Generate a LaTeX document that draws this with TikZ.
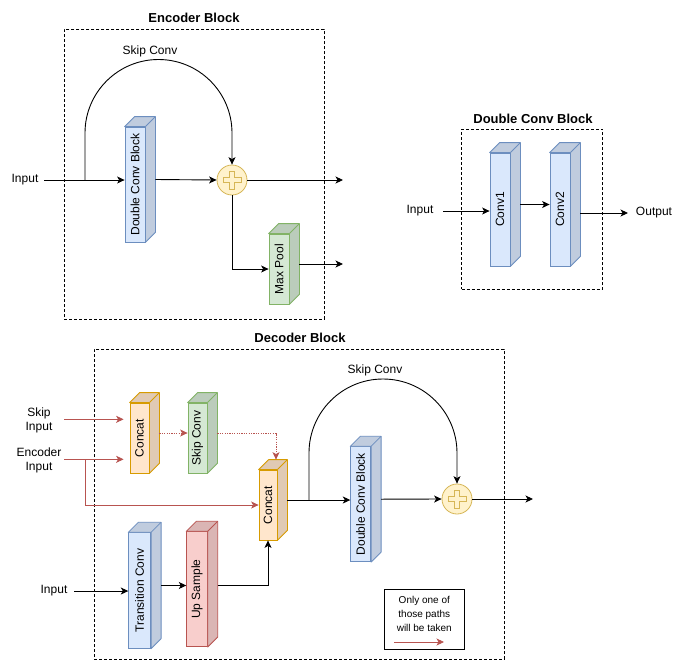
\documentclass[tikz,border=0pt]{standalone}
\usepackage{fontspec}
\setmainfont{Liberation Sans}
\usepackage{graphicx}
\usetikzlibrary{arrows.meta,calc}
\definecolor{blueF}{HTML}{DAE8FC}\definecolor{blueD}{HTML}{6C8EBF}
\definecolor{greenF}{HTML}{D5E8D4}\definecolor{greenD}{HTML}{82B366}
\definecolor{orangeF}{HTML}{FFE6CC}\definecolor{orangeD}{HTML}{D79B00}
\definecolor{redF}{HTML}{F8CECC}\definecolor{redD}{HTML}{B85450}
\definecolor{yelF}{HTML}{FFF2CC}\definecolor{yelD}{HTML}{D6B656}
\newcommand{\rtxt}[1]{\rotatebox{90}{#1}\hspace{-5pt}}
\newcommand{\cubesides}[3]{%
  \filldraw[fill=#2!88!black, draw=#3, line width=0.8pt, line join=round]
    (#1.north west) -- ([shift={(10,-10)}]#1.north west) -- ([shift={(10,-10)}]#1.north east)
    -- ([shift={(10,-10)}]#1.south east) -- (#1.south east) -- (#1.north east) -- cycle;
  \draw[#3, line width=0.8pt] (#1.north east) -- ([shift={(10,-10)}]#1.north east);}
\newcommand{\plussign}[1]{%
  \draw[yelD, line width=0.8pt, line join=miter] (#1.center) ++(-2.8,-9) -- ++(5.6,0) -- ++(0,6.2) -- ++(6.2,0)
    -- ++(0,5.6) -- ++(-6.2,0) -- ++(0,6.2) -- ++(-5.6,0) -- ++(0,-6.2) -- ++(-6.2,0)
    -- ++(0,-5.6) -- ++(6.2,0) -- cycle;}
\begin{document}
\begin{tikzpicture}[x=1pt,y=-1pt,
  fs12/.style={font=\fontsize{12}{14}\selectfont},
  ttl/.style={font=\fontsize{13}{15}\selectfont\bfseries},
  dashbox/.style={draw=black, line width=0.8pt, dash pattern=on 3pt off 2pt, rectangle, inner sep=0pt},
  front/.style={rectangle, inner sep=0pt, line width=0.8pt, font=\fontsize{12}{14}\selectfont},
  cb/.style={front, draw=blueD, fill=blueF},
  cg/.style={front, draw=greenD, fill=greenF},
  co/.style={front, draw=orangeD, fill=orangeF},
  cr/.style={front, draw=redD, fill=redF},
  addc/.style={circle, draw=yelD, fill=yelF, line width=0.8pt, minimum size=30pt, inner sep=0pt},
  arr/.style={-{Stealth[length=7.5pt,width=7pt,inset=2pt]}, line width=0.9pt, black},
  ln/.style={line width=0.9pt, black},
  rarr/.style={-{Stealth[length=7.5pt,width=7pt,inset=2pt]}, line width=0.8pt, redD},
  rdot/.style={rarr, dash pattern=on 1.2pt off 1.2pt},
  lbl/.style={fs12, inner sep=0pt}]
\fill[white] (0,0) rectangle (683,670);
\useasboundingbox (0,0) rectangle (683,670);

% ---------------- Encoder block ----------------
\node[dashbox, minimum width=260pt, minimum height=290pt] (encbox) at (194.3,174.3) {};
\node[ttl] (enct) at (194,18) {Encoder Block};
\node[cb, minimum width=20pt, minimum height=115pt] (dcE) at (135,184.5) {\rtxt{Double Conv Block}};
\cubesides{dcE}{blueF}{blueD}
\node[cg, minimum width=20pt, minimum height=70pt] (mpE) at (279,269) {\rtxt{Max Pool}};
\cubesides{mpE}{greenF}{greenD}
\node[addc] (plE) at (232,180) {};
\plussign{plE}
\node[lbl] (einT) at (25,180) {Input};
\node[lbl] (eskT) at (150,51) {Skip Conv};
\coordinate (ein) at (44,180);
\coordinate (ebr) at (85,180);
\coordinate (eo1) at (343,180);
\coordinate (eo2) at (343,264);
\draw[arr] (ein) -- (ein -| dcE.west);
\draw[arr] (ebr) -- (85,133) arc[start angle=180, end angle=0, radius=73.5pt] -- (plE.north);
\coordinate (dcEo) at ([xshift=10pt,yshift=5pt]dcE.east);
\draw[arr] (dcEo) -- (plE.west);
\draw[arr] (plE.east) -- (eo1);
\draw[arr] (plE.south) |- (mpE.west);
\coordinate (mpEo) at ([xshift=10pt,yshift=5pt]mpE.east);
\draw[arr] (mpEo) -- (eo2);

% ---------------- Double conv block ----------------
\node[dashbox, minimum width=141pt, minimum height=160pt] (dcbox) at (532.2,209.3) {};
\node[ttl] (dct) at (533,119) {Double Conv Block};
\node[cb, minimum width=20pt, minimum height=113pt] (cv1) at (500,209.5) {\rtxt{Conv1}};
\cubesides{cv1}{blueF}{blueD}
\node[cb, minimum width=20pt, minimum height=113pt] (cv2) at (560,209.5) {\rtxt{Conv2}};
\cubesides{cv2}{blueF}{blueD}
\node[lbl] (dinT) at (420,211) {Input};
\node[lbl] (doutT) at (654,213) {Output};
\coordinate (din) at (443,211);
\coordinate (dout) at (628,213);
\draw[arr] (din) -- (din -| cv1.west);
\coordinate (cv1o) at ([xshift=10pt,yshift=5pt]cv1.east);
\draw[arr] (cv1o) -- (cv1o -| cv2.west);
\coordinate (cv2o) at ([xshift=10pt,yshift=-3.5pt]cv2.east);
\draw[arr] (cv2o) -- (dout);

% ---------------- Decoder block ----------------
\node[dashbox, minimum width=410pt, minimum height=310pt] (decbox) at (299.3,504.3) {};
\node[ttl] (dect) at (300,338) {Decoder Block};
\node[co, minimum width=19pt, minimum height=70pt] (ca1) at (139.5,438) {\rtxt{Concat}};
\cubesides{ca1}{orangeF}{orangeD}
\node[cg, minimum width=19pt, minimum height=70pt] (sk) at (197.5,438) {\rtxt{Skip Conv}};
\cubesides{sk}{greenF}{greenD}
\node[co, minimum width=18pt, minimum height=70pt] (ca2) at (268,505) {\rtxt{Concat}};
\cubesides{ca2}{orangeF}{orangeD}
\node[cb, minimum width=22pt, minimum height=115.6pt] (tc) at (139.7,590.5) {\rtxt{Transition Conv}};
\cubesides{tc}{blueF}{blueD}
\node[cr, minimum width=20.6pt, minimum height=115pt] (up) at (197,589.2) {\rtxt{Up Sample}};
\cubesides{up}{redF}{redD}
\node[cb, minimum width=20pt, minimum height=115pt] (dcD) at (360.7,504.2) {\rtxt{Double Conv Block}};
\cubesides{dcD}{blueF}{blueD}
\node[addc] (plD) at (457,499) {};
\plussign{plD}

\node[lbl, align=center] (skT) at (39,420) {Skip\\Input};
\node[lbl, align=center] (enT) at (39,460) {Encoder\\Input};
\node[lbl] (inT) at (54,591) {Input};
\node[lbl] (dskT) at (375,370) {Skip Conv};

\coordinate (skin) at (64,419.3);
\coordinate (enin) at (64,459.3);
\coordinate (enbr) at (85,459.3);
\draw[rarr, shorten >=6pt] (skin) -- (skin -| ca1.west);
\draw[rarr, shorten >=6pt] (enin) -- (enin -| ca1.west);
\draw[rarr] (enbr) |- (ca2.west);
\coordinate (ca1o) at ([xshift=10pt,yshift=5pt]ca1.east);
\draw[rdot] (ca1o) -- (ca1o -| sk.west);
\coordinate (sko) at ([xshift=10pt,yshift=5pt]sk.east);
\draw[rdot] (sko) -| ([xshift=8pt,yshift=10pt]ca2.north);

\coordinate (din3) at (74,591);
\draw[arr] (din3) -- (din3 -| tc.west);
\coordinate (tco) at ([xshift=10pt,yshift=5pt]tc.east);
\draw[arr] (tco) -- (tco -| up.west);
\coordinate (upo) at ([xshift=10pt,yshift=4pt]up.east);
\draw[arr] (upo) -| (ca2.south);
\coordinate (ca2o) at ([xshift=10pt,yshift=5pt]ca2.east);
\draw[arr] (ca2o) -- (ca2o -| dcD.west);
\coordinate (dbr) at (309,500);
\draw[arr] (dbr) -- (309,453) arc[start angle=180, end angle=0, radius=74pt] -- (plD.north);
\coordinate (dcDo) at ([xshift=10pt,yshift=5pt]dcD.east);
\draw[arr] (dcDo) -- (plD.west);
\coordinate (dout2) at (533,499);
\draw[arr] (plD.east) -- (dout2);

% legend
\node[draw=black, line width=0.9pt, minimum width=80pt, minimum height=60pt, inner sep=0pt] (leg) at (424.3,619.3) {};
\node[font=\fontsize{10}{14}\selectfont, align=center, inner sep=0pt] (legT) at (424.3,614) {Only one of\\those paths\\will be taken};
\coordinate (lg1) at (394,642);
\coordinate (lg2) at (444,642);
\draw[rarr] (lg1) -- (lg2);
\end{tikzpicture}
\end{document}
